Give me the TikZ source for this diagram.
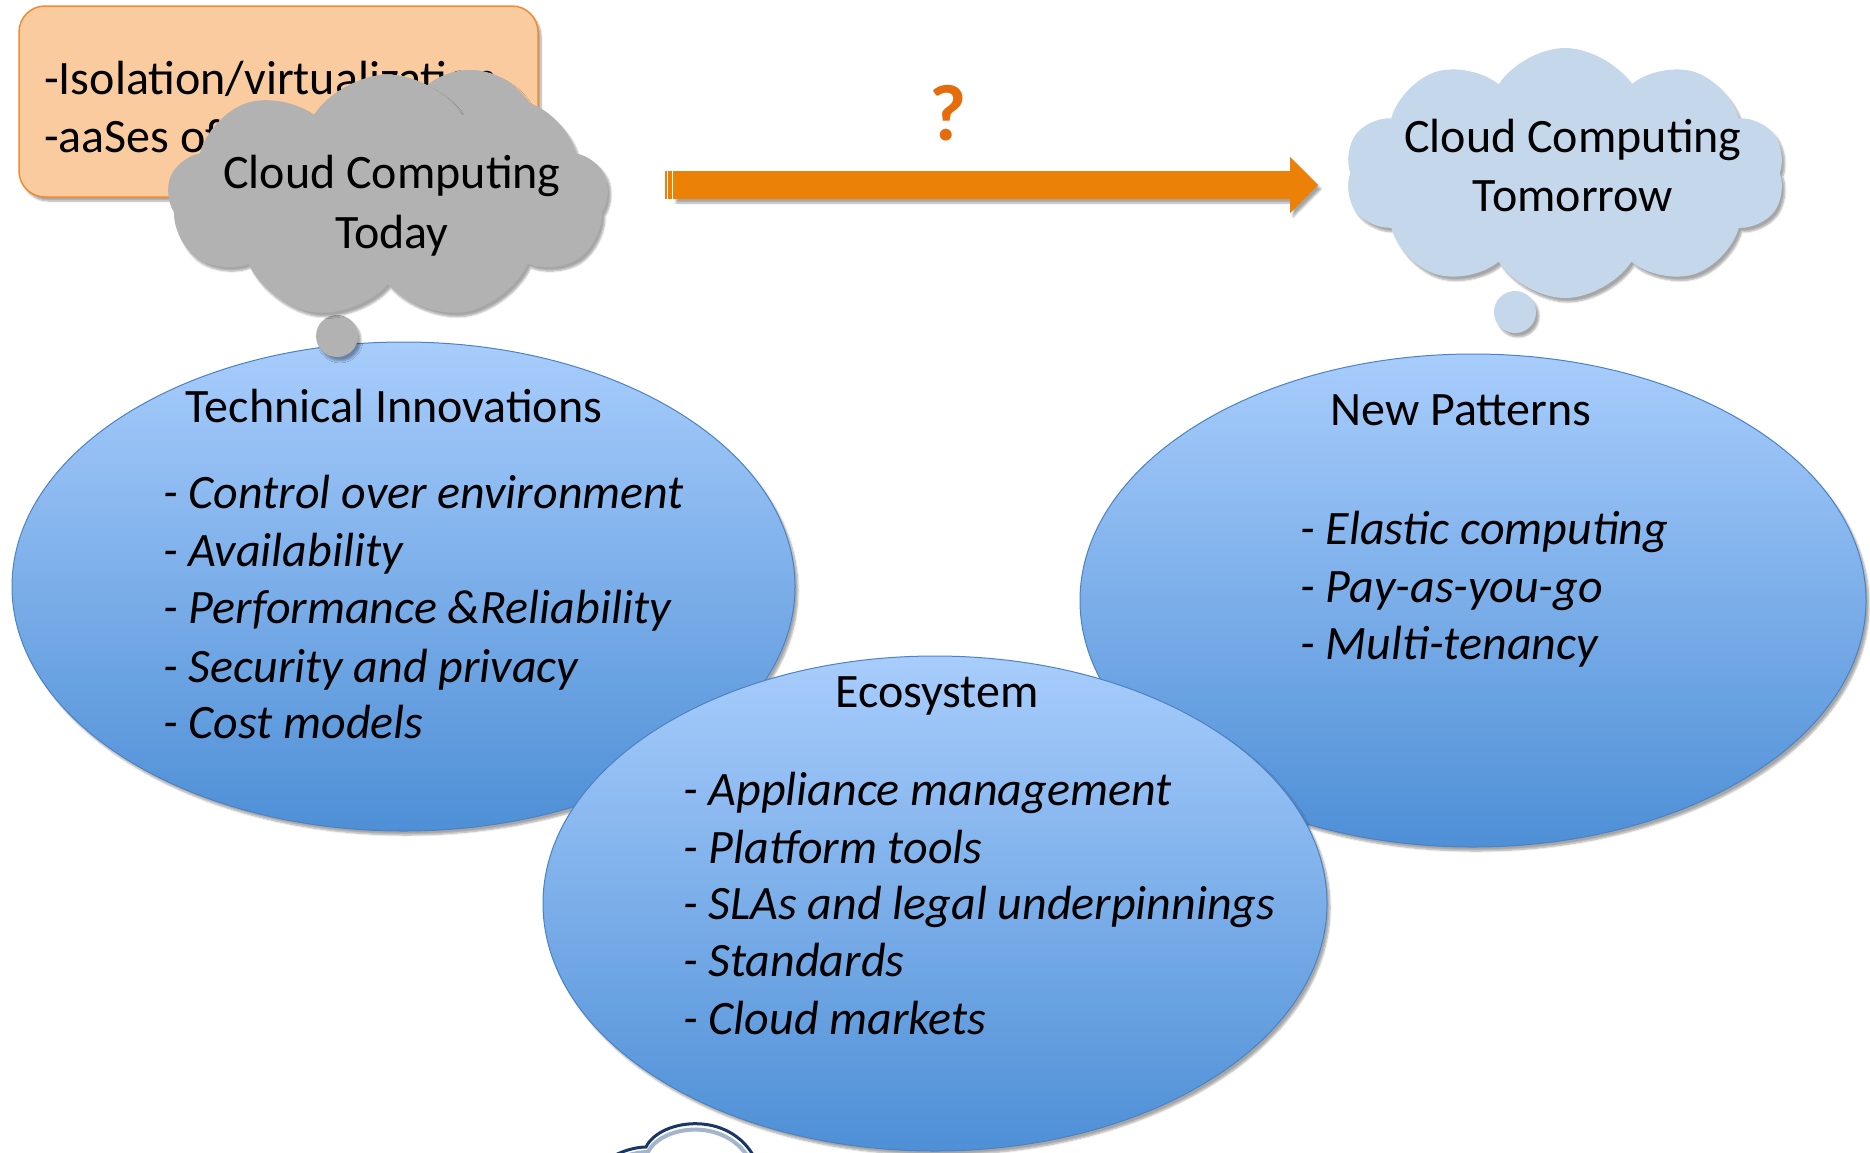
\documentclass[tikz,border=0pt]{standalone}
\usepackage{fontspec}
\setmainfont{Carlito}
\usetikzlibrary{shapes.symbols,shapes.geometric,shadows.blur,calc}
\definecolor{boxfill}{RGB}{251,203,160}
\definecolor{boxline}{RGB}{238,140,50}
\definecolor{cloudgray}{RGB}{178,178,178}
\definecolor{cloudblue}{RGB}{197,216,235}
\definecolor{elltop}{RGB}{168,205,252}
\definecolor{ellbot}{RGB}{78,143,214}
\definecolor{ellline}{RGB}{75,130,195}
\definecolor{arroworange}{RGB}{235,129,6}
\definecolor{qorange}{RGB}{228,108,10}
\definecolor{navy}{RGB}{23,55,100}
\definecolor{iconrim}{RGB}{165,180,205}
\tikzset{
  shad/.style={blur shadow={shadow xshift=3pt, shadow yshift=-4pt, shadow opacity=35, shadow blur steps=6}},
  bubble/.style={ellipse, draw=ellline, line width=1pt, top color=elltop, bottom color=ellbot, shad, inner sep=0pt},
  ttl/.style={font=\fontsize{48}{56}\selectfont, anchor=base, inner sep=0pt},
  itm/.style={font=\fontsize{48}{56}\selectfont\itshape, anchor=base west, inner sep=0pt},
  boxtxt/.style={font=\fontsize{48}{56}\selectfont, anchor=base west, inner sep=0pt},
  puff/.style={cloud, cloud puffs=10, cloud puff arc=115, cloud ignores aspect, inner sep=0pt, shad},
  tailbub/.style={circle, inner sep=0pt, minimum size=42pt, shad},
}
\begin{document}
\begin{tikzpicture}[x=1pt,y=-1pt]
\useasboundingbox (0,0) rectangle (1870,1152);
\clip (0,0) rectangle (1870,1152);

% orange box
\node[rectangle, rounded corners=26pt, draw=boxline, line width=1.5pt, fill=boxfill,
      minimum width=519pt, minimum height=191pt, shad] (box) at (278.5,101.5) {};
\node[boxtxt] (box1) at (44,94) {-Isolation/virtualization};
\node[boxtxt] (box2) at (44,152) {-aaSes of};

% ellipses
\node[bubble, minimum width=783pt, minimum height=489pt] (ti) at (403.5,586.5) {};
\node[bubble, minimum width=786pt, minimum height=493pt] (np) at (1473,600.5) {};
\node[bubble, minimum width=784pt, minimum height=495pt] (eco) at (935,903.5) {};

% gray cloud (today)
\node[tailbub, fill=cloudgray] (graytail) at (337,336) {};
\node[circle, fill=cloudgray, minimum size=136pt, inner sep=0pt, shad] (todaypuff) at (470,138) {};
\node[puff, fill=cloudgray, cloud puffs=9, minimum width=441pt, minimum height=245pt] (today) at (388,197) {};
\node[ttl] (todayA) at (392,188) {Cloud Computing};
\node[ttl] (todayB) at (392,248) {Today};

% blue cloud (tomorrow)
\node[tailbub, fill=cloudblue] (bluetail) at (1515,312) {};
\node[puff, fill=cloudblue, minimum width=440pt, minimum height=250pt] (tomorrow) at (1565,173) {};
\node[ttl] (tomA) at (1573,152) {Cloud Computing};
\node[ttl] (tomB) at (1573,211) {Tomorrow};

% arrow
\coordinate (aS) at (664,185);
\coordinate (aE) at (1318,185);
\fill[arroworange, shad] ($(aS)+(9,-14)$) -- ($(aE)+(-28,-14)$) -- ($(aE)+(-28,-28)$) -- (aE)
  -- ($(aE)+(-28,28)$) -- ($(aE)+(-28,14)$) -- ($(aS)+(9,14)$) -- cycle;
\fill[arroworange] ($(aS)+(1,-14)$) rectangle ($(aS)+(2.5,14)$);
\fill[arroworange] ($(aS)+(4,-14)$) rectangle ($(aS)+(8,14)$);
\node[font=\fontsize{80}{90}\selectfont\bfseries, text=qorange, inner sep=0pt] (q) at (948,113) {?};

% texts in ellipses
\node[ttl] (tiT) at (394,422) {Technical Innovations};
\node[itm] (ti1) at (163,508) {- Control over environment};
\node[itm] (ti2) at (163,566) {- Availability};
\node[itm] (ti3) at (163,623) {- Performance \&Reliability};
\node[itm] (ti4) at (163,682) {- Security and privacy};
\node[itm] (ti5) at (163,738) {- Cost models};

\node[ttl] (npT) at (1461,425) {New Patterns};
\node[itm] (np1) at (1300,544) {- Elastic computing};
\node[itm] (np2) at (1300,602) {- Pay-as-you-go};
\node[itm] (np3) at (1300,659) {- Multi-tenancy};

\node[ttl] (ecoT) at (937,707) {Ecosystem};
\node[itm] (eco1) at (683,805) {- Appliance management};
\node[itm] (eco2) at (683,863) {- Platform tools};
\node[itm] (eco3) at (683,919) {- SLAs and legal underpinnings};
\node[itm] (eco4) at (683,976) {- Standards};
\node[itm] (eco5) at (683,1034) {- Cloud markets};

% partial icon at bottom
\fill[white] (600,1165) .. controls (615,1152) and (635,1147) .. (646,1147)
  .. controls (660,1118) and (735,1108) .. (758,1165) -- cycle;
\draw[iconrim, line width=4pt] (605,1168) .. controls (620,1156) and (636,1152) .. (648,1152)
  .. controls (662,1124) and (732,1115) .. (754,1168);
\draw[navy, line width=3pt] (600,1165) .. controls (615,1152) and (635,1147) .. (646,1147)
  .. controls (660,1118) and (735,1108) .. (758,1165);
\end{tikzpicture}
\end{document}
